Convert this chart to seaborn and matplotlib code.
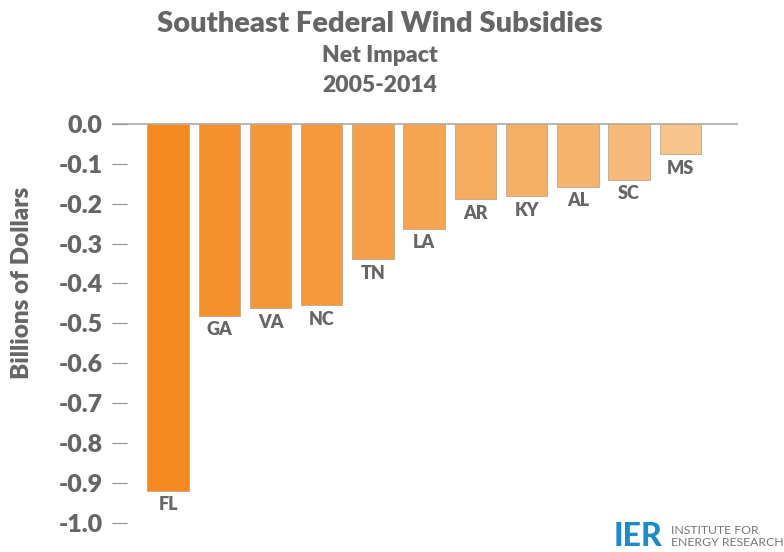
import matplotlib
matplotlib.use("Agg")
import matplotlib.pyplot as plt
import seaborn as sns
import pandas as pd

states = ["FL", "GA", "VA", "NC", "TN", "LA", "AR", "KY", "AL", "SC", "MS"]
impact = [-0.92, -0.481, -0.462, -0.454, -0.339, -0.263, -0.189, -0.181, -0.157, -0.140, -0.076]
colors = ["#F48A20", "#F4912C", "#F59637", "#F5993C", "#F5A049", "#F5A450",
          "#F5AB60", "#F6AF67", "#F6B36E", "#F7BA7B", "#F8C48E"]
yticks = [0.0, -0.1, -0.2, -0.3, -0.4, -0.5, -0.6, -0.7, -0.8, -0.9, -1.0]

sns.set_theme(style="white")
plt.rcParams["font.family"] = ["Lato", "DejaVu Sans"]

GRAY = "#666666"
WT = 800
df = pd.DataFrame({"state": states, "impact": impact})

W, H = 784, 552
fig = plt.figure(figsize=(W / 100, H / 100), dpi=100)
ymin, ymax = -1.03, 0.01
px_per = 398.7
top_px = 124 - ymax * px_per
bot_px = 124 - ymin * px_per
left_px, right_px = 111.7, 737.7
ax = fig.add_axes([left_px / W, (H - bot_px) / H, (right_px - left_px) / W, (bot_px - top_px) / H])

sns.barplot(data=df, x="state", y="impact", hue="state", palette=colors, legend=False,
            width=0.81, saturation=1, ax=ax, edgecolor="#c0a88c", linewidth=0.6)

ax.set_xlim(-1.1, 11.12)
ax.set_ylim(ymin, ymax)
ax.axhline(0, color="#aaaaaa", lw=1.2, zorder=0)
for s in ax.spines.values():
    s.set_visible(False)

ax.set_yticks(yticks)
ax.set_yticklabels([f"{t:.1f}" for t in yticks], fontsize=18, fontweight=WT, color=GRAY)
ax.tick_params(axis="y", direction="in", length=11, width=0.9, color="#999999", pad=6.5, left=True)
ax.set_xticks([])
ax.set_xlabel("")
ax.set_ylabel("")

for i, (s, v) in enumerate(zip(states, impact)):
    ax.annotate(s, xy=(i, v), xytext=(0, -4), textcoords="offset points",
                ha="center", va="top", fontsize=13, fontweight=WT, color=GRAY)

fig.text(22 / W, 1 - 283 / H, "Billions of Dollars", rotation=90, ha="center", va="center",
         fontsize=17.5, fontweight=WT, color=GRAY)

cx = 380 / W
fig.text(cx, 1 - 24 / H, "Southeast Federal Wind Subsidies", ha="center", va="center",
         fontsize=21, fontweight=WT, color=GRAY)
fig.text(cx, 1 - 56 / H, "Net Impact", ha="center", va="center",
         fontsize=16.5, fontweight=WT, color=GRAY)
fig.text(cx, 1 - 86 / H, "2005-2014", ha="center", va="center",
         fontsize=16.5, fontweight=WT, color=GRAY)

fig.text(614 / W, 1 - 536 / H, "IER", ha="left", va="center",
         fontsize=23, fontweight="black", color="#1E8BC9")
fig.text(671 / W, 1 - 530 / H, "INSTITUTE FOR", ha="left", va="center",
         fontsize=8.8, color="#777777")
fig.text(671 / W, 1 - 543 / H, "ENERGY RESEARCH", ha="left", va="center",
         fontsize=8.8, color="#777777")

fig.savefig("out.png", dpi=100)
